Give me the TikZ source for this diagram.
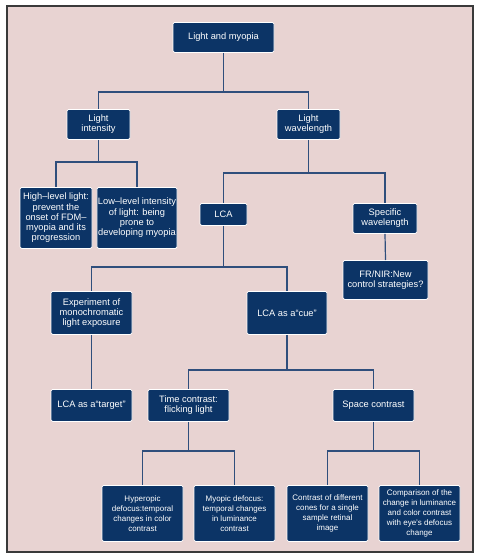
\documentclass[tikz,border=0pt]{standalone}
\usepackage{fontspec}
\setmainfont{Liberation Sans}
\usetikzlibrary{positioning}
\definecolor{boxnavy}{HTML}{0C3466}
\definecolor{bgpink}{HTML}{E8D3D2}
\definecolor{linkblue}{HTML}{2F4E7C}
\definecolor{framegray}{HTML}{3A3A3A}
\begin{document}
\begin{tikzpicture}[x=1pt,y=-1pt,
  box/.style={rectangle,rounded corners=1.5pt,draw=white,line width=0.8pt,fill=boxnavy,
    text=white,align=center,anchor=north,inner sep=1pt,font=\fontsize{9.3}{10.3}\selectfont},
  leaf/.style={box,font=\fontsize{8}{10}\selectfont},
  link/.style={draw=linkblue,line width=1.2pt}]
\useasboundingbox (0,0) rectangle (481,554);
\draw[fill=bgpink,draw=framegray,line width=1.6pt] (7,6) rectangle (473,552);

\node[box,minimum width=101,minimum height=30] (LM) at (223.5,22) {Light and myopia};
\node[box,minimum width=63,minimum height=30] (LI) at (98.5,109) {Light\\intensity};
\node[box,minimum width=63,minimum height=30] (LW) at (308.5,109) {Light\\wavelength};
\node[box,minimum width=72,minimum height=61] (HL) at (56,187) {High–level light:\\prevent the\\onset of FDM–\\myopia and its\\progression};
\node[box,minimum width=80,minimum height=61] (LL) at (137,187) {Low–level intensity\\of light: being\\prone to\\developing myopia};
\node[box,minimum width=47,minimum height=22] (LCA) at (223.5,203) {LCA};
\node[box,minimum width=64,minimum height=30] (SW) at (385,203) {Specific\\wavelength};
\node[box,minimum width=85,minimum height=39] (FR) at (385.5,260) {FR/NIR:New\\control strategies?};
\node[box,minimum width=81,minimum height=43] (EX) at (91.5,291) {Experiment of\\monochromatic\\light exposure};
\node[box,minimum width=80,minimum height=43] (CUE) at (287,291) {LCA as a“cue”};
\node[box,minimum width=81,minimum height=32] (TG) at (91.5,389) {LCA as a“target”};
\node[box,minimum width=81,minimum height=32] (TC) at (188.5,389) {Time contrast:\\flicking light};
\node[box,minimum width=81,minimum height=32] (SC) at (373.5,389) {Space contrast};
\node[leaf,minimum width=81,minimum height=56] (HY) at (142.5,485) {Hyperopic\\defocus:temporal\\changes in color\\contrast};
\node[leaf,minimum width=81,minimum height=56] (MY) at (234.5,485) {Myopic defocus:\\temporal changes\\in luminance\\contrast};
\node[leaf,minimum width=81,minimum height=56] (CO) at (327.5,485) {Contrast of different\\cones for a single\\sample retinal\\image};
\node[leaf,minimum width=81,minimum height=56] (CM) at (419.5,485) {Comparison of the\\change in luminance\\and color contrast\\with eye’s defocus\\change};

% tree links
\draw[link] (LM.south) -- (223.5,92) coordinate (b1);
\draw[link] (b1) -| (LI.north);
\draw[link] (b1) -| (LW.north);
\draw[link] (LI.south) -- (98.5,162) coordinate (b2);
\draw[link] (b2) -| (HL.north);
\draw[link] (b2) -| (LL.north);
\draw[link] (LW.south) -- (308.5,173) coordinate (b3);
\draw[link] (b3) -| (LCA.north);
\draw[link] (b3) -| (SW.north);
\draw[link] (SW.south) -- (FR.north);
\draw[link] (LCA.south) -- (223.5,267) coordinate (b4);
\draw[link] (b4) -| (EX.north);
\draw[link] (b4) -| (CUE.north);
\draw[link] (EX.south) -- (TG.north);
\draw[link] (CUE.south) -- (287,370) coordinate (b5);
\draw[link] (b5) -| (TC.north);
\draw[link] (b5) -| (SC.north);
\draw[link] (TC.south) -- (188.5,451) coordinate (b6);
\draw[link] (b6) -| (HY.north);
\draw[link] (b6) -| (MY.north);
\draw[link] (SC.south) -- (373.5,451) coordinate (b7);
\draw[link] (b7) -| (CO.north);
\draw[link] (b7) -| (CM.north);

\end{tikzpicture}
\end{document}
